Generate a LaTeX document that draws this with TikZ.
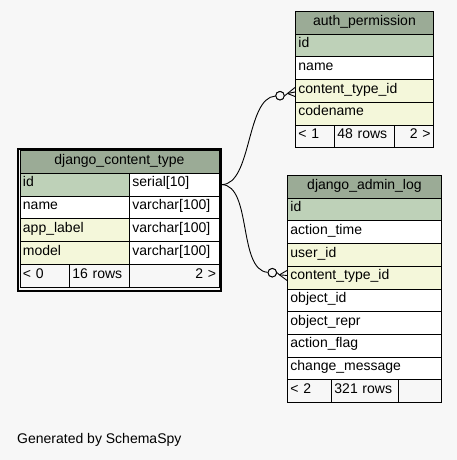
\documentclass[tikz,border=0pt]{standalone}
\usepackage{fontspec}
\setmainfont{Liberation Sans}
\definecolor{bgcol}{HTML}{F7F7F7}
\definecolor{hdrgreen}{HTML}{9BAB96}
\definecolor{pkgreen}{HTML}{BED1B8}
\definecolor{fkyellow}{HTML}{F4F7DA}
\begin{document}
\begin{tikzpicture}[x=1pt,y=-1pt,
  font=\fontsize{14}{16}\selectfont,
  cell/.style={draw=black, line width=0.9pt, anchor=north west, inner xsep=3pt, inner ysep=0pt,
    minimum height=22.7pt, text height=10pt, text depth=5.5pt, align=left},
  hdr/.style={cell, fill=hdrgreen, align=center},
  pk/.style={cell, fill=pkgreen},
  fk/.style={cell, fill=fkyellow},
  plain/.style={cell, fill=white},
  foot/.style={cell, fill=bgcol},
  footr/.style={foot, align=right},
  link/.style={draw=black, line width=0.9pt},
  odot/.style={circle, draw=black, line width=0.9pt, fill=bgcol, minimum size=8.5pt, inner sep=0pt},
  frame/.style={draw=black, line width=2pt, anchor=north west, inner sep=0pt}
]
\fill[bgcol] (0,0) rectangle (457,460);
\useasboundingbox (0,0) rectangle (457,460);

% auth_permission
\node[hdr, text width=132pt] (ap-h) at (295,11) {auth\_permission};
\node[pk, text width=132pt] (ap-id) at (295,33.7) {id};
\node[plain, text width=132pt] (ap-name) at (295,56.4) {name};
\node[fk, text width=132pt] (ap-ct) at (295,79.1) {content\_type\_id};
\node[fk, text width=132pt] (ap-code) at (295,101.8) {codename};
\node[foot, text width=33pt] (ap-f1) at (295,124.5) {< 1};
\node[foot, text width=54pt] (ap-f2) at (334,124.5) {48 rows};
\node[footr, text width=33pt] (ap-f3) at (394,124.5) {2 >};

% django_content_type
\node[frame, minimum width=203pt, minimum height=142pt] (ct-frame) at (17,147.5) {};
\node[hdr, text width=193pt] (ct-h) at (19.5,150) {django\_content\_type};
\node[pk, text width=103.5pt] (ct-id) at (19.5,172.8) {id};
\node[plain, text width=83.5pt] (ct-idv) at (129,172.8) {serial[10]};
\node[plain, text width=103.5pt] (ct-name) at (19.5,195.6) {name};
\node[plain, text width=83.5pt] (ct-namev) at (129,195.6) {varchar[100]};
\node[fk, text width=103.5pt] (ct-app) at (19.5,218.4) {app\_label};
\node[plain, text width=83.5pt] (ct-appv) at (129,218.4) {varchar[100]};
\node[fk, text width=103.5pt] (ct-model) at (19.5,241.2) {model};
\node[plain, text width=83.5pt] (ct-modelv) at (129,241.2) {varchar[100]};
\node[foot, text width=43.5pt] (ct-f1) at (19.5,264) {< 0};
\node[foot, text width=54pt] (ct-f2) at (69,264) {16 rows};
\node[footr, text width=83.5pt] (ct-f3) at (129,264) {2 >};

% django_admin_log
\node[hdr, text width=148pt] (al-h) at (287,175) {django\_admin\_log};
\node[pk, text width=148pt] (al-id) at (287,197.7) {id};
\node[plain, text width=148pt] (al-time) at (287,220.4) {action\_time};
\node[fk, text width=148pt] (al-user) at (287,243.1) {user\_id};
\node[fk, text width=148pt] (al-ct) at (287,265.8) {content\_type\_id};
\node[plain, text width=148pt] (al-obj) at (287,288.5) {object\_id};
\node[plain, text width=148pt] (al-repr) at (287,311.2) {object\_repr};
\node[plain, text width=148pt] (al-flag) at (287,333.9) {action\_flag};
\node[plain, text width=148pt] (al-msg) at (287,356.6) {change\_message};
\node[foot, text width=38pt] (al-f1) at (287,379.3) {< 2};
\node[foot, text width=61pt] (al-f2) at (331,379.3) {321 rows};
\node[foot, text width=37pt] (al-f3) at (398,379.3) {};

% connectors
\coordinate (src) at (ct-frame.east |- ct-idv.east);
\coordinate (apex1) at (287.5,93.5);
\coordinate (apex2) at (279.5,274.8);
\node[odot] (c1) at (280,95.7) {};
\node[odot] (c2) at (272.3,272.7) {};
\draw[link] (src) .. controls (252,184) and (246,98) .. (c1);
\draw[link] (src) .. controls (252,186) and (238,270) .. (c2);
\node[odot] at (c1) {};
\node[odot] at (c2) {};
\draw[link] (c1.east) -- (apex1);
\draw[link] (apex1) -- (ap-ct.west |- 0,87.5);
\draw[link] (apex1) -- (ap-ct.west |- 0,92);
\draw[link] (apex1) -- (ap-ct.west |- 0,96.5);
\draw[link] (c2.east) -- (apex2);
\draw[link] (apex2) -- (al-ct.west |- 0,270.5);
\draw[link] (apex2) -- (al-ct.west |- 0,275.5);
\draw[link] (apex2) -- (al-ct.west |- 0,280.5);

\node[anchor=base west, inner sep=0pt] (gen) at (17,443.3) {Generated by SchemaSpy};
\end{tikzpicture}
\end{document}
